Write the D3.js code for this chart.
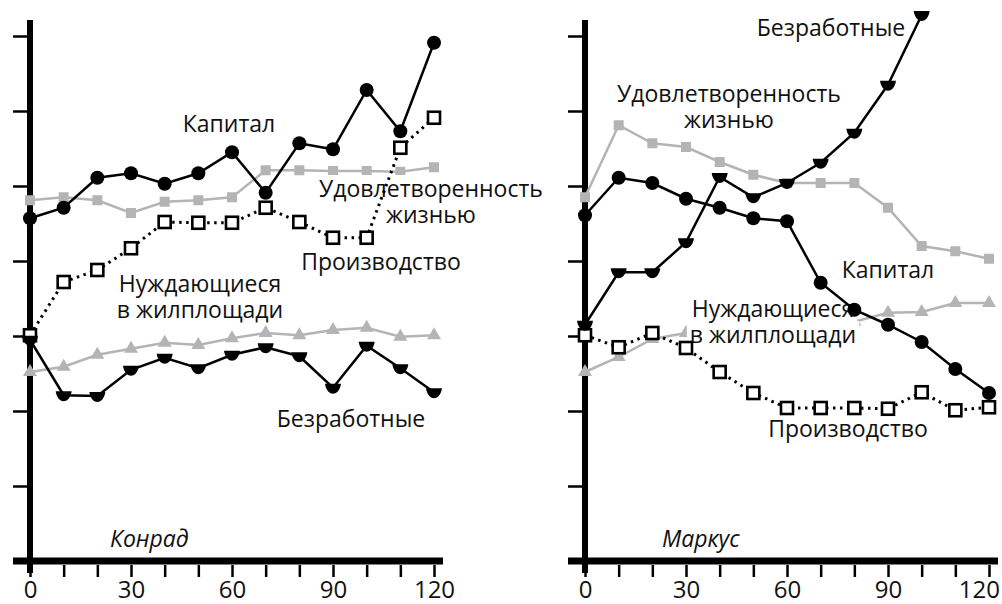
<!DOCTYPE html>
<html><head><meta charset="utf-8">
<script src="https://cdn.jsdelivr.net/npm/d3@7"></script>
<style>
html,body{margin:0;padding:0;background:#fff;}
svg{display:block;}
text{font-family:"Open Sans",sans-serif;fill:#111;}
</style></head>
<body>
<svg id="chart" width="1002" height="604"></svg>
<script>
// ---- data ----
const months = [0,10,20,30,40,50,60,70,80,90,100,110,120];
const xTickLabels = [0,30,60,90,120];
const yTicks = [1,2,3,4,5,6,7];

// Konrad
const konradCapital      = [4.57,4.71,5.11,5.17,5.03,5.17,5.45,4.91,5.57,5.49,6.28,5.73,6.91];
const konradSatisfaction = [4.81,4.85,4.81,4.64,4.79,4.81,4.85,5.21,5.21,5.20,5.20,5.19,5.25];
const konradProduction   = [3.01,3.72,3.88,4.17,4.52,4.51,4.51,4.71,4.52,4.31,4.31,5.51,5.91];
const konradHousing      = [2.52,2.59,2.75,2.83,2.91,2.88,2.97,3.04,3.01,3.08,3.11,2.99,3.01];
const konradUnemployed   = [2.95,2.21,2.20,2.55,2.71,2.57,2.75,2.85,2.73,2.31,2.87,2.57,2.25];

// Markus
const markusCapital      = [4.61,5.11,5.04,4.83,4.71,4.57,4.53,3.71,3.35,3.15,2.92,2.56,2.24];
const markusSatisfaction = [4.85,5.81,5.57,5.52,5.32,5.15,5.04,5.04,5.04,4.71,4.20,4.13,4.03];
const markusProduction   = [3.01,2.85,3.04,2.84,2.52,2.24,2.04,2.04,2.04,2.03,2.25,2.01,2.05];
const markusHousing      = [2.52,2.72,2.96,3.04,3.11,3.15,3.17,3.17,3.19,3.31,3.32,3.44,3.44];
const markusUnemployed   = [3.15,3.85,3.85,4.25,5.12,4.85,5.04,5.31,5.71,6.35,7.28];

const panelNames = ["Конрад","Маркус"];
const seriesNames = {
  capital:["Капитал"], satisfaction:["Удовлетворенность","жизнью"],
  production:["Производство"], housing:["Нуждающиеся","в жилплощади"],
  unemployed:["Безработные"]
};

// ---- layout ----
const svg = d3.select("#chart");
const GREY = "#b4b4b4";
const yScale = d3.scaleLinear().domain([0,7]).range([561,36]);

const panels = [
  { name: panelNames[0], x0: 30, x1: 434,
    series: { capital:konradCapital, satisfaction:konradSatisfaction, production:konradProduction,
              housing:konradHousing, unemployed:konradUnemployed },
    labels: [
      {key:"capital", x:229, y:132},
      {key:"satisfaction", x:431, y:197},
      {key:"production", x:381, y:270},
      {key:"housing", x:200, y:292},
      {key:"unemployed", x:351, y:427}
    ],
    nameX: 110, axisRight: 443
  },
  { name: panelNames[1], x0: 585, x1: 989,
    series: { capital:markusCapital, satisfaction:markusSatisfaction, production:markusProduction,
              housing:markusHousing, unemployed:markusUnemployed },
    labels: [
      {key:"unemployed", x:831, y:36},
      {key:"satisfaction", x:729, y:102},
      {key:"capital", x:888, y:278},
      {key:"housing", x:773, y:317},
      {key:"production", x:848, y:437}
    ],
    nameX: 662, axisRight: 998
  }
];

const downMarker = "M-8,-4 L8,-4 C7,3 3,6 0,6 C-3,6 -7,3 -8,-4 Z";
const triMarker = d3.symbol().type(d3.symbolTriangle).size(85)();

panels.forEach(p => {
  const x = d3.scaleLinear().domain([0,120]).range([p.x0, p.x1]);
  const g = svg.append("g");
  const pts = arr => arr.map((v,i) => [x(months[i]), yScale(v)]);
  const line = d3.line();

  // y ticks
  const ya = g.append("g").attr("transform", `translate(${p.x0-2},0)`)
    .call(d3.axisLeft(yScale).tickValues(yTicks).tickSize(15).tickFormat(""));
  ya.select(".domain").remove();
  ya.selectAll(".tick line").attr("stroke","#000").attr("stroke-width",2.5);

  // x ticks
  const xa = g.append("g").attr("transform", `translate(0,565)`)
    .call(d3.axisBottom(x).tickValues(months).tickSize(12)
      .tickFormat(d => xTickLabels.includes(d) ? d : ""));
  xa.select(".domain").remove();
  xa.selectAll(".tick line").attr("stroke","#000").attr("stroke-width",2.5);
  xa.selectAll(".tick text").attr("y",33).attr("dy",0)
    .style("font-family","Open Sans").style("font-size","24px").attr("fill","#111");
  // keep the last label inside the picture
  xa.selectAll(".tick text").each(function(){
    const bb = this.getBBox();
    const t = d3.select(this.parentNode).attr("transform");
    const tx = +t.match(/translate\(([-\d.]+)/)[1];
    const over = tx + bb.x + bb.width - 1000;
    if (over > 0) d3.select(this).attr("x", -over);
  });

  // thick axes
  g.append("line").attr("x1",p.x0).attr("x2",p.x0).attr("y1",20).attr("y2",573)
    .attr("stroke","#000").attr("stroke-width",6);
  g.append("line").attr("x1",p.x0-17).attr("x2",p.axisRight).attr("y1",yScale(0)).attr("y2",yScale(0))
    .attr("stroke","#000").attr("stroke-width",7);

  // grey series
  g.append("path").attr("d", line(pts(p.series.satisfaction))).attr("fill","none")
    .attr("stroke",GREY).attr("stroke-width",2.5);
  g.selectAll(null).data(pts(p.series.satisfaction)).enter().append("rect")
    .attr("x",d=>d[0]-5).attr("y",d=>d[1]-5).attr("width",10).attr("height",10).attr("fill",GREY);
  g.append("path").attr("d", line(pts(p.series.housing))).attr("fill","none")
    .attr("stroke",GREY).attr("stroke-width",2.5);
  g.selectAll(null).data(pts(p.series.housing)).enter().append("path")
    .attr("d",triMarker).attr("transform",d=>`translate(${d[0]},${d[1]})`).attr("fill",GREY);

  // labels (multi-line as tspans) with white backgrounds
  p.labels.forEach(l => {
    const tx = g.append("text").attr("text-anchor","middle").style("font-size","23px");
    seriesNames[l.key].forEach((t,i) => {
      tx.append("tspan").attr("x",l.x).attr("y",l.y + i*26).text(t);
    });
    tx.selectAll("tspan").each(function(){
      const bb = this.getBBox();
      g.insert("rect", () => tx.node()).attr("x",bb.x-3).attr("y",bb.y+3)
        .attr("width",bb.width+6).attr("height",bb.height-5).attr("fill","#fff");
    });
  });

  // production (dotted, open squares)
  g.append("path").attr("d", line(pts(p.series.production))).attr("fill","none")
    .attr("stroke","#000").attr("stroke-width",3).attr("stroke-dasharray","2.5,4.5");
  g.selectAll(null).data(pts(p.series.production)).enter().append("rect")
    .attr("x",d=>d[0]-6).attr("y",d=>d[1]-6).attr("width",12).attr("height",12)
    .attr("fill","#fff").attr("stroke","#000").attr("stroke-width",2.6);

  // unemployed
  g.append("path").attr("d", line(pts(p.series.unemployed))).attr("fill","none")
    .attr("stroke","#000").attr("stroke-width",2.5);
  g.selectAll(null).data(pts(p.series.unemployed)).enter().append("path")
    .attr("d",downMarker).attr("transform",d=>`translate(${d[0]},${d[1]})`).attr("fill","#000");

  // capital
  g.append("path").attr("d", line(pts(p.series.capital))).attr("fill","none")
    .attr("stroke","#000").attr("stroke-width",2.5);
  g.selectAll(null).data(pts(p.series.capital)).enter().append("circle")
    .attr("cx",d=>d[0]).attr("cy",d=>d[1]).attr("r",7).attr("fill","#000");

  // panel name
  g.append("text").attr("x",p.nameX).attr("y",547).style("font-size","23px")
    .style("font-style","italic").text(p.name);
});
</script>
</body></html>
